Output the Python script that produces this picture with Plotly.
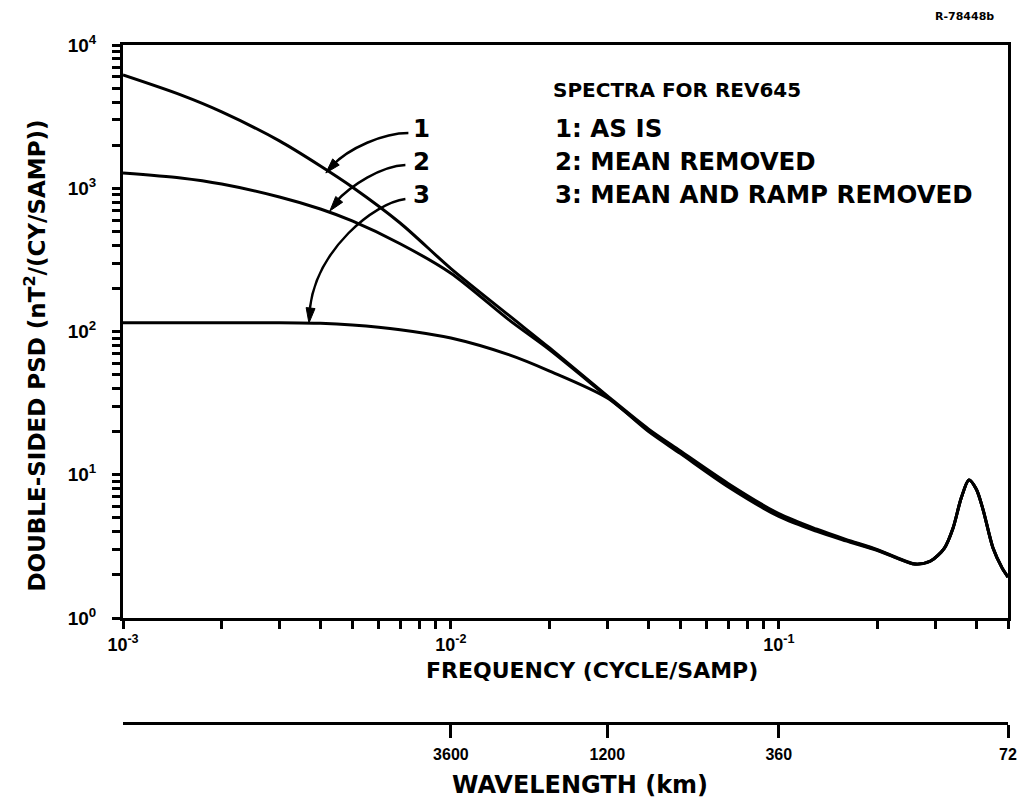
import plotly.graph_objects as go

# Frequency grid (cycle/sample) shared by the three spectra
freq = [0.001, 0.0015, 0.002, 0.003, 0.004, 0.005, 0.007, 0.01, 0.015, 0.02,
        0.03, 0.04, 0.05, 0.07, 0.1, 0.13, 0.16, 0.2, 0.23, 0.26, 0.29, 0.32,
        0.34, 0.36, 0.38, 0.40, 0.42, 0.45, 0.48, 0.5]

# Double-sided PSD, nT^2/(cy/samp)
psd_as_is = [6170, 4480, 3410, 2140, 1430, 1020, 572, 275, 130, 76.7,
             35.5, 20.9, 14.7, 8.7, 5.35, 4.18, 3.54, 3.0, 2.63, 2.39, 2.50, 3.08,
             4.25, 6.88, 9.19, 7.95, 5.67, 3.08, 2.23, 1.93]
psd_mean_removed = [1280, 1180, 1070, 869, 716, 591, 410, 255, 121, 74.5,
                    35.0, 20.5, 14.4, 8.48, 5.24, 4.11, 3.50, 2.98, 2.62, 2.38, 2.50, 3.08,
                    4.25, 6.88, 9.19, 7.95, 5.67, 3.08, 2.23, 1.93]
psd_mean_ramp_removed = [115, 115, 115, 115, 114, 111, 103, 90, 68.9, 52.9,
                         34.3, 20.1, 14.1, 8.25, 5.12, 4.04, 3.46, 2.96, 2.61, 2.37, 2.49, 3.08,
                         4.25, 6.88, 9.19, 7.95, 5.67, 3.08, 2.23, 1.93]

series = [("1: AS IS", psd_as_is),
          ("2: MEAN REMOVED", psd_mean_removed),
          ("3: MEAN AND RAMP REMOVED", psd_mean_ramp_removed)]

# Axis ticks: labelled decades plus unlabelled 2..9 multiples
x_major = [1e-3, 1e-2, 1e-1]
x_major_text = ["10<sup>-3</sup>", "10<sup>-2</sup>", "10<sup>-1</sup>"]
x_minor = [m * 10.0 ** e for e in (-3, -2, -1) for m in range(2, 10) if m * 10.0 ** e <= 0.5]
y_major = [1, 10, 100, 1000, 10000]
y_major_text = ["10<sup>0</sup>", "10<sup>1</sup>", "10<sup>2</sup>", "10<sup>3</sup>", "10<sup>4</sup>"]
y_minor = [m * 10.0 ** e for e in range(0, 4) for m in range(2, 10)]

# Wavelength scale (km) placed at the matching frequencies
wave_freq = [0.01, 0.03, 0.1, 0.5]
wave_text = ["3600", "1200", "360", "72"]

W, H = 1029, 804
ML, MR, MT, MB = 123, 16, 45, 60
PW, PH = W - ML - MR, H - MT - MB


def paper(px, py):
    return (px - ML) / PW, (H - MB - py) / PH


TICK_FONT = "Liberation Sans, Arial, sans-serif"
TEXT_FONT = "DejaVu Sans, Verdana, sans-serif"
BLACK = "#000000"

fig = go.Figure()
for name, vals in series:
    fig.add_trace(go.Scatter(x=freq, y=vals, mode="lines", name=name,
                             line=dict(color=BLACK, width=3, shape="spline", smoothing=0.8),
                             showlegend=False, hoverinfo="skip"))

# carrier trace for the wavelength scale
fig.add_trace(go.Scatter(x=[0.001, 0.5], y=[1, 1], xaxis="x2", mode="lines",
                         line=dict(width=0), opacity=0, showlegend=False, hoverinfo="skip"))

y_bottom = (H - MB - 618) / PH
wave_pos = (H - MB - 723) / PH

minor_style = dict(ticks="outside", ticklen=8, tickwidth=2.5, tickcolor=BLACK, showgrid=False)

fig.update_layout(
    width=W, height=H,
    margin=dict(l=ML, r=MR, t=MT, b=MB),
    paper_bgcolor="white", plot_bgcolor="white",
    font=dict(family=TICK_FONT, color=BLACK),
    xaxis=dict(type="log", range=[-3, -0.30103], showgrid=False, zeroline=False,
               showline=True, linecolor=BLACK, linewidth=3, mirror=True,
               ticks="outside", ticklen=8, tickwidth=2.5, tickcolor=BLACK,
               tickmode="array", tickvals=x_major, ticktext=x_major_text, ticklabelstandoff=0,
               minor=dict(tickmode="array", tickvals=x_minor, **minor_style),
               tickfont=dict(size=18, family=TICK_FONT, weight=700), anchor="y"),
    xaxis2=dict(type="log", range=[-3, -0.30103], overlaying="x", anchor="free",
                position=wave_pos, side="bottom", showgrid=False, zeroline=False,
                showline=True, linecolor=BLACK, linewidth=3,
                ticks="outside", ticklen=13, tickwidth=3, tickcolor=BLACK,
                tickmode="array", tickvals=wave_freq, ticktext=wave_text, ticklabelstandoff=3,
                tickfont=dict(size=16, family=TICK_FONT, weight=700)),
    yaxis=dict(type="log", range=[0, 4], domain=[y_bottom, 1], showgrid=False, zeroline=False,
               showline=True, linecolor=BLACK, linewidth=3, mirror=True,
               ticks="outside", ticklen=8, tickwidth=2.5, tickcolor=BLACK,
               tickmode="array", tickvals=y_major, ticktext=y_major_text, ticklabelstandoff=12,
               minor=dict(tickmode="array", tickvals=y_minor, **minor_style),
               tickfont=dict(size=19, family=TICK_FONT, weight=700)),
)


def add_text(px, py, text, size, xanchor="left", angle=0):
    x, y = paper(px, py)
    fig.add_annotation(x=x, y=y, xref="paper", yref="paper", text=text, showarrow=False,
                       xanchor=xanchor, yanchor="middle", textangle=angle,
                       font=dict(size=size, family=TEXT_FONT, color=BLACK, weight=700))


# Axis titles and plate number
add_text(35, 355, "DOUBLE-SIDED PSD (nT<sup>2</sup>/(CY/SAMP))", 23, "center", -90)
add_text(595, 670, "FREQUENCY (CYCLE/SAMP)", 22, "center")
add_text(583, 785, "WAVELENGTH (km)", 24, "center")
add_text(969, 17, "R-78448b", 11, "center")

# Key
add_text(553, 90, "SPECTRA FOR REV645", 20)
for i, (name, _) in enumerate(series):
    add_text(555, 128 + 33 * i, name, 24.5)
    add_text(423, 128 + 33 * i, str(i + 1), 24.5, "center")


def curved_arrow(p0, c1, c2, p1, tip):
    pts = [paper(*p) for p in (p0, c1, c2, p1)]
    path = "M %f,%f C %f,%f %f,%f %f,%f" % (pts[0][0], pts[0][1], pts[1][0], pts[1][1],
                                            pts[2][0], pts[2][1], pts[3][0], pts[3][1])
    fig.add_shape(type="path", path=path, xref="paper", yref="paper",
                  line=dict(color=BLACK, width=2.5))
    # arrowhead
    dx, dy = tip[0] - c2[0], tip[1] - c2[1]
    n = (dx * dx + dy * dy) ** 0.5
    dx, dy = dx / n, dy / n
    length, half = 15, 4.5
    bx, by = tip[0] - dx * length, tip[1] - dy * length
    a = paper(bx - dy * half, by + dx * half)
    b = paper(bx + dy * half, by - dx * half)
    t = paper(*tip)
    fig.add_shape(type="path", xref="paper", yref="paper",
                  path="M %f,%f L %f,%f L %f,%f Z" % (t[0], t[1], a[0], a[1], b[0], b[1]),
                  fillcolor=BLACK, line=dict(color=BLACK, width=1))


curved_arrow((410, 133), (385, 133), (350, 148), (333, 166), (327, 173))
curved_arrow((407, 165), (383, 166), (352, 185), (336, 203), (331, 211))
curved_arrow((407, 199), (375, 203), (318, 250), (311, 308), (310, 323))

fig.write_html("out.html")
